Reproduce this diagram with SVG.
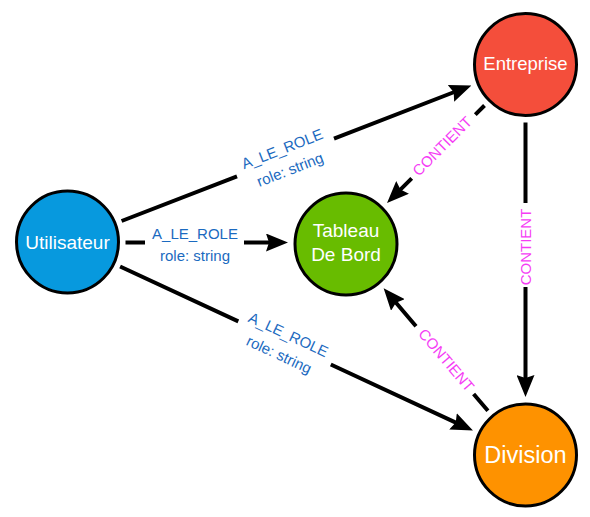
<svg xmlns="http://www.w3.org/2000/svg" width="590" height="517" viewBox="0 0 590 517">
<style>
.node{stroke:#000;stroke-width:3}
.ntxt{font-family:"Liberation Sans",Arial,sans-serif;fill:#fff;text-anchor:middle}
.edge{fill:none;stroke:#000;stroke-width:4}
.rl{font-family:"Liberation Sans",Arial,sans-serif;fill:#1B6AC0;text-anchor:middle;font-size:15px}
.ct{font-family:"Liberation Sans",Arial,sans-serif;fill:#F53DF5;text-anchor:middle;font-size:15px}
</style>
<defs>
<marker id="arr" markerUnits="userSpaceOnUse" markerWidth="22" markerHeight="18" refX="12" refY="9" orient="auto" viewBox="0 0 22 18">
<path d="M0,0 L22,9 L0,18 L3,9 z" fill="#000"/>
</marker>
</defs>
<rect width="590" height="517" fill="#fff"/>
<g id="connectors">
<g id="e-u-e">
<path class="edge" d="M121.6,221 L237,176.3 M334,138.7 L462.1,89" marker-end="url(#arr)"/>
<g transform="translate(285.5,157.5) rotate(-21.18)"><text class="rl" y="-4">A_LE_ROLE</text><text class="rl" y="18">role: string</text></g>
</g>
<g id="e-u-t">
<path class="edge" d="M125.5,242.5 L145,242.5 M244,242.5 L278,242.5" marker-end="url(#arr)"/>
<g transform="translate(195,242.5)"><text class="rl" y="-4">A_LE_ROLE</text><text class="rl" y="18">role: string</text></g>
</g>
<g id="e-u-d">
<path class="edge" d="M120.1,266.5 L238.3,321.4 M330.8,364.5 L463.9,426.4" marker-end="url(#arr)"/>
<g transform="translate(284.5,343) rotate(24.94)"><text class="rl" y="-4">A_LE_ROLE</text><text class="rl" y="18">role: string</text></g>
</g>
<g id="e-e-t">
<path class="edge" d="M484.5,105.5 L475.3,114.7 M411.7,178.3 L394.1,195.9" marker-end="url(#arr)"/>
<g transform="translate(443,147) rotate(-45)"><text class="ct" y="4">CONTIENT</text></g>
</g>
<g id="e-e-d">
<path class="edge" d="M525.5,122.5 L525.5,203 M525.5,287 L525.5,387" marker-end="url(#arr)"/>
<g transform="translate(525.5,247) rotate(-90)"><text class="ct" y="5">CONTIENT</text></g>
</g>
<g id="e-d-t">
<path class="edge" d="M487.9,410.8 L473.6,394 M416,326.3 L390.1,295.8" marker-end="url(#arr)"/>
<g transform="translate(445.5,360.9) rotate(49.6)"><text class="ct" y="4">CONTIENT</text></g>
</g>
</g>
<g id="utilisateur">
<circle class="node" cx="67.5" cy="242" r="51" fill="#0799DE"/>
<text class="ntxt" x="67.5" y="248.5" font-size="19">Utilisateur</text>
</g>
<g id="tableau">
<circle class="node" cx="346" cy="244" r="51" fill="#68BC00"/>
<text class="ntxt" x="346" y="237" font-size="19">Tableau</text>
<text class="ntxt" x="346" y="260.5" font-size="19">De Bord</text>
</g>
<g id="entreprise">
<circle class="node" cx="525.5" cy="64.5" r="51" fill="#F44E3B"/>
<text class="ntxt" x="525.5" y="69.5" font-size="18.5">Entreprise</text>
</g>
<g id="division">
<circle class="node" cx="525.5" cy="455" r="51" fill="#FE9200"/>
<text class="ntxt" x="525.5" y="463" font-size="23.5">Division</text>
</g>
</svg>
